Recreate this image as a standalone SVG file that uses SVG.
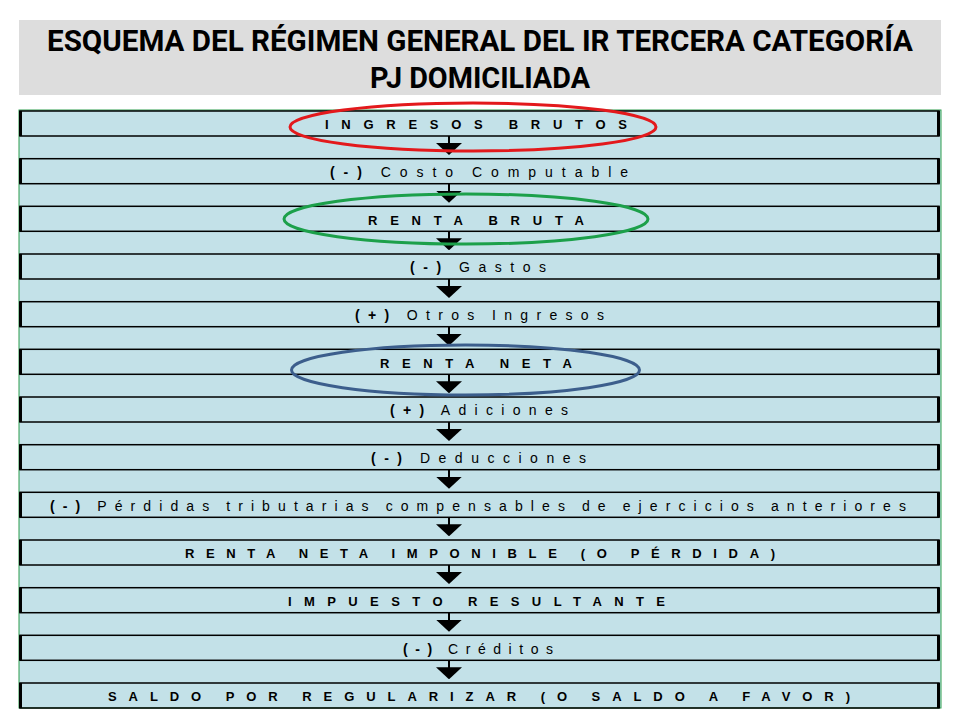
<svg xmlns="http://www.w3.org/2000/svg" width="960" height="720" viewBox="0 0 960 720">
<style>
.box{fill:none;stroke:#000;stroke-width:1.5}
.bar{fill:#000}
.t{font-family:"Liberation Sans",Arial,sans-serif;font-size:14px;fill:#000;word-spacing:-3px}
.b{font-weight:bold;font-size:13px}
.conn line{stroke:#000;stroke-width:2}
.title{font-family:Roboto,"Liberation Sans",sans-serif;font-weight:bold;font-size:29px;fill:#000}
.hl{fill:none;stroke-width:3}
</style>
<defs>
<marker id="arr" markerUnits="userSpaceOnUse" viewBox="0 0 12 26" refX="6" refY="13" markerWidth="12" markerHeight="26" orient="auto">
<path d="M0,0 L12,13 L0,26 Z" fill="#000"/>
</marker>
</defs>
<rect width="960" height="720" fill="#fff"/>
<g id="title">
<rect x="19" y="20" width="922" height="75" fill="#dddddd"/>
<text class="title" x="47" y="51" textLength="866" lengthAdjust="spacingAndGlyphs">ESQUEMA DEL RÉGIMEN GENERAL DEL IR TERCERA CATEGORÍA</text>
<text class="title" x="370" y="88" textLength="220" lengthAdjust="spacingAndGlyphs">PJ DOMICILIADA</text>
</g>
<rect id="panel" x="19" y="110" width="922" height="598" fill="#c3e1e8" stroke="#2e9e4f" stroke-width="1"/>
<g id="connectors" class="conn">
<line x1="449" y1="136" x2="449" y2="149" marker-end="url(#arr)"/>
<line x1="449" y1="183.7" x2="449" y2="196.7" marker-end="url(#arr)"/>
<line x1="449" y1="231.3" x2="449" y2="244.3" marker-end="url(#arr)"/>
<line x1="449" y1="279" x2="449" y2="292" marker-end="url(#arr)"/>
<line x1="449" y1="326.7" x2="449" y2="339.7" marker-end="url(#arr)"/>
<line x1="449" y1="374.3" x2="449" y2="387.3" marker-end="url(#arr)"/>
<line x1="449" y1="422" x2="449" y2="435" marker-end="url(#arr)"/>
<line x1="449" y1="469.7" x2="449" y2="482.7" marker-end="url(#arr)"/>
<line x1="449" y1="517.3" x2="449" y2="530.3" marker-end="url(#arr)"/>
<line x1="449" y1="565" x2="449" y2="578" marker-end="url(#arr)"/>
<line x1="449" y1="612.7" x2="449" y2="625.7" marker-end="url(#arr)"/>
<line x1="449" y1="660.3" x2="449" y2="673.3" marker-end="url(#arr)"/>
</g>
<g id="n1"><rect class="box" x="20" y="111" width="919" height="25"/><rect class="bar" x="19" y="111" width="3" height="25"/><rect class="bar" x="937" y="111" width="3" height="25"/>
<text class="t b" x="325" y="129.3" textLength="302" lengthAdjust="spacing">INGRESOS BRUTOS</text></g>
<g id="n2"><rect class="box" x="20" y="158.7" width="919" height="25"/><rect class="bar" x="19" y="158.7" width="3" height="25"/><rect class="bar" x="937" y="158.7" width="3" height="25"/>
<text class="t" x="330" y="177" textLength="298" lengthAdjust="spacing"><tspan font-weight="bold">(-)</tspan> Costo Computable</text></g>
<g id="n3"><rect class="box" x="20" y="206.3" width="919" height="25"/><rect class="bar" x="19" y="206.3" width="3" height="25"/><rect class="bar" x="937" y="206.3" width="3" height="25"/>
<text class="t b" x="368" y="224.6" textLength="216" lengthAdjust="spacing">RENTA BRUTA</text></g>
<g id="n4"><rect class="box" x="20" y="254" width="919" height="25"/><rect class="bar" x="19" y="254" width="3" height="25"/><rect class="bar" x="937" y="254" width="3" height="25"/>
<text class="t" x="410" y="272.3" textLength="136" lengthAdjust="spacing"><tspan font-weight="bold">(-)</tspan> Gastos</text></g>
<g id="n5"><rect class="box" x="20" y="301.7" width="919" height="25"/><rect class="bar" x="19" y="301.7" width="3" height="25"/><rect class="bar" x="937" y="301.7" width="3" height="25"/>
<text class="t" x="355" y="320" textLength="249" lengthAdjust="spacing"><tspan font-weight="bold">(+)</tspan> Otros Ingresos</text></g>
<g id="n6"><rect class="box" x="20" y="349.3" width="919" height="25"/><rect class="bar" x="19" y="349.3" width="3" height="25"/><rect class="bar" x="937" y="349.3" width="3" height="25"/>
<text class="t b" x="380" y="367.6" textLength="192" lengthAdjust="spacing">RENTA NETA</text></g>
<g id="n7"><rect class="box" x="20" y="397" width="919" height="25"/><rect class="bar" x="19" y="397" width="3" height="25"/><rect class="bar" x="937" y="397" width="3" height="25"/>
<text class="t" x="390" y="415.3" textLength="178" lengthAdjust="spacing"><tspan font-weight="bold">(+)</tspan> Adiciones</text></g>
<g id="n8"><rect class="box" x="20" y="444.7" width="919" height="25"/><rect class="bar" x="19" y="444.7" width="3" height="25"/><rect class="bar" x="937" y="444.7" width="3" height="25"/>
<text class="t" x="371" y="463" textLength="215" lengthAdjust="spacing"><tspan font-weight="bold">(-)</tspan> Deducciones</text></g>
<g id="n9"><rect class="box" x="20" y="492.3" width="919" height="25"/><rect class="bar" x="19" y="492.3" width="3" height="25"/><rect class="bar" x="937" y="492.3" width="3" height="25"/>
<text class="t" x="50" y="510.6" textLength="856" lengthAdjust="spacing"><tspan font-weight="bold">(-)</tspan> Pérdidas tributarias compensables de ejercicios anteriores</text></g>
<g id="n10"><rect class="box" x="20" y="540" width="919" height="25"/><rect class="bar" x="19" y="540" width="3" height="25"/><rect class="bar" x="937" y="540" width="3" height="25"/>
<text class="t b" x="185" y="558.3" textLength="590" lengthAdjust="spacing">RENTA NETA IMPONIBLE (O PÉRDIDA)</text></g>
<g id="n11"><rect class="box" x="20" y="587.7" width="919" height="25"/><rect class="bar" x="19" y="587.7" width="3" height="25"/><rect class="bar" x="937" y="587.7" width="3" height="25"/>
<text class="t b" x="288" y="606" textLength="377" lengthAdjust="spacing">IMPUESTO RESULTANTE</text></g>
<g id="n12"><rect class="box" x="20" y="635.3" width="919" height="25"/><rect class="bar" x="19" y="635.3" width="3" height="25"/><rect class="bar" x="937" y="635.3" width="3" height="25"/>
<text class="t" x="403" y="653.6" textLength="150" lengthAdjust="spacing"><tspan font-weight="bold">(-)</tspan> Créditos</text></g>
<g id="n13"><rect class="box" x="20" y="683" width="919" height="25"/><rect class="bar" x="19" y="683" width="3" height="25"/><rect class="bar" x="937" y="683" width="3" height="25"/>
<text class="t b" x="108" y="701.3" textLength="742" lengthAdjust="spacing">SALDO POR REGULARIZAR (O SALDO A FAVOR)</text></g>
<g id="highlights">
<ellipse class="hl" cx="473" cy="127" rx="183" ry="24" stroke="#e3191c"/>
<ellipse class="hl" cx="466" cy="219" rx="182" ry="25" stroke="#1ca04a"/>
<ellipse class="hl" cx="465.5" cy="370" rx="174" ry="25" stroke="#3c5e8c"/>
</g>
</svg>
